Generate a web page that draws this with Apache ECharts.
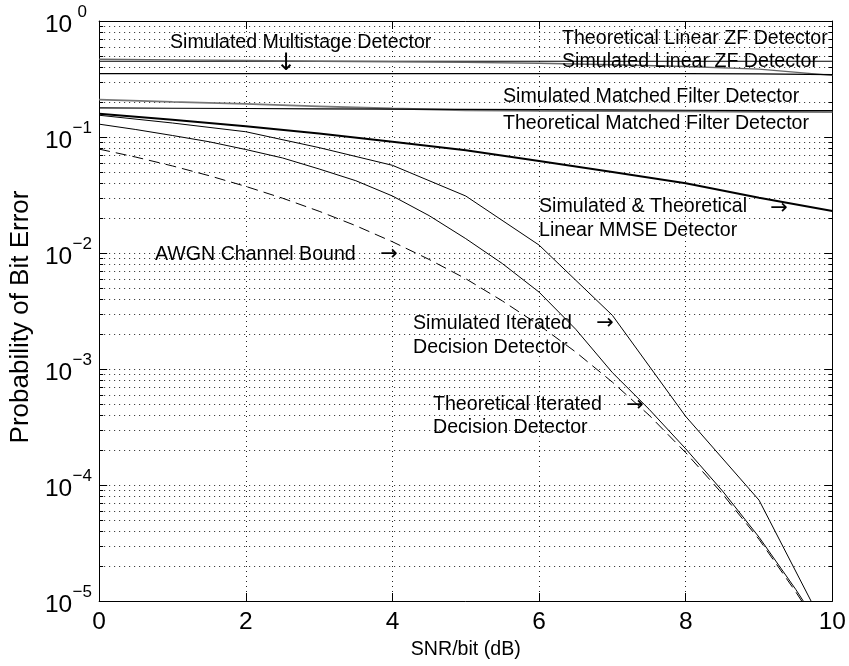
<!DOCTYPE html>
<html><head><meta charset="utf-8">
<script src="https://cdn.jsdelivr.net/npm/echarts@6/dist/echarts.min.js"></script>
<style>html,body{margin:0;padding:0;background:#fff}#c{width:849px;height:666px}</style>
</head><body><div id="c"></div>
<script>
// ---- data ----
const snr = [0,1,2,3,4,5,6,7,8,9,10];
const snrHalf = [0,0.5,1,1.5,2,2.5,3,3.5,4,4.5,5,5.5,6,6.5,7,7.5,8,8.5,9,9.5,10];
const xTicks = [0,2,4,6,8,10];
const yTickExponents = [0,-1,-2,-3,-4,-5];

const zfTheory = [0.45,0.45,0.45,0.45,0.45,0.45,0.45,0.45,0.45,0.45,0.45];
const zfSim = [0.468,0.462,0.456,0.45,0.445,0.44,0.432,0.42,0.405,0.385,0.34];
const multistageSim = [0.352,0.352,0.352,0.352,0.352,0.352,0.352,0.352,0.352,0.35,0.345];
const mfSim = [0.21,0.201,0.193,0.184,0.176,0.170,0.168,0.167,0.166,0.165,0.164];
const mfTheory = [0.178,0.177,0.176,0.175,0.174,0.173,0.172,0.171,0.170,0.169,0.169];
const mmse = [0.159,0.141,0.124,0.107,0.091,0.077,0.062,0.050,0.040,0.030,0.023];
const iterSim = [0.154,0.132,0.111,0.081,0.057,0.031,0.0117,0.0029,0.00039,0.000074,0.0000044];
const iterTheory = [0.129,0.116,0.103,0.091,0.078,0.066,0.053,0.042,0.031,0.021,0.0133,0.0081,0.0046,0.0022,0.00093,0.00045,0.000205,0.000089,0.0000355,0.0000126,0.0000041];
const awgn = [0.0786,0.0671,0.0563,0.0464,0.0375,0.0297,0.0229,0.0172,0.0125,0.0088,0.0060,0.00386,0.00239,0.0014,0.00077,0.00040,0.00019,0.000084,0.000034,0.000012,0.0000039];

const minorMult = [2,3,4,5,6,7,8,9];
const minorDecades = [-5,-4,-3,-2,-1];

// ---- chart ----
const FONT = '"Liberation Sans", Arial, Helvetica, sans-serif';
const AFONT = '"DejaVu Sans", sans-serif';
const FS = 19.6;      // annotation / x title size
const TFS = 24.5;     // tick label size
const YFS = 26;       // y title size
const chart = echarts.init(document.getElementById('c'), null, {renderer: 'canvas'});

function pairs(xs, ys) { return xs.map((x, i) => [x, ys[i]]); }
function line(name, xs, ys, color, width, type) {
  return {
    name: name, type: 'line', data: pairs(xs, ys), showSymbol: false, symbol: 'none',
    smooth: false, clip: true, z: 5, silent: true,
    lineStyle: {color: color, width: width, type: type || 'solid'}
  };
}
const minorTicks = [];
minorDecades.forEach(d => minorMult.forEach(m => minorTicks.push([0, m * Math.pow(10, d)])));

const dotted = {color: '#222', width: 1, type: [1, 4]};

function txt(text, x, y) {
  return {type: 'text', silent: true, z: 100,
    style: {text: text, x: x, y: y, fill: '#000', font: FS + 'px ' + FONT,
            textAlign: 'left', textVerticalAlign: 'middle'}};
}
function arrow(ch, x, y, size) {
  return {type: 'text', silent: true, z: 100,
    style: {text: ch, x: x, y: y, fill: '#000', font: (size || 21) + 'px ' + AFONT,
            textAlign: 'center', textVerticalAlign: 'middle'}};
}

const option = {
  animation: false,
  backgroundColor: '#fff',
  grid: {left: 97, top: 21, right: 16, bottom: 65, containLabel: false},
  xAxis: [{
    type: 'value', min: 0, max: 10, interval: 2, position: 'bottom',
    axisLine: {show: true, onZero: false, lineStyle: {color: '#000', width: 1}},
    axisTick: {show: true, inside: true, length: 8, lineStyle: {color: '#000'}},
    axisLabel: {color: '#000', fontSize: TFS, fontFamily: FONT, margin: 9,
      formatter: v => String(xTicks.find(t => Math.abs(t - v) < 1e-9) ?? v)},
    splitLine: {show: true, lineStyle: dotted},
    name: 'SNR/bit (dB)', nameLocation: 'middle', nameGap: 35,
    nameTextStyle: {color: '#000', fontSize: FS, fontFamily: FONT}
  }, {
    type: 'value', min: 0, max: 10, interval: 2, position: 'top',
    axisLine: {show: true, onZero: false, lineStyle: {color: '#000', width: 1}},
    axisTick: {show: true, inside: true, length: 8, lineStyle: {color: '#000'}},
    axisLabel: {show: false}, splitLine: {show: false}
  }],
  yAxis: [{
    type: 'log', logBase: 10, min: 1e-5, max: 1, position: 'left',
    axisLine: {show: true, onZero: false, lineStyle: {color: '#000', width: 1}},
    axisTick: {show: true, inside: true, length: 8, lineStyle: {color: '#000'}},
    axisLabel: {
      color: '#000', margin: 7, align: 'right',
      formatter: function (v) {
        const e = Math.round(Math.log10(v));
        const lab = yTickExponents.find(t => t === e);
        return '{b|10}{s|' + (lab === undefined ? e : lab).toString().replace('-', '\u2212') + '}';
      },
      rich: {
        b: {fontSize: TFS, fontFamily: FONT, color: '#000', lineHeight: 34, verticalAlign: 'bottom'},
        s: {fontSize: 17, fontFamily: FONT, color: '#000', lineHeight: 17, verticalAlign: 'top', width: 20, align: 'left'}
      }
    },
    splitLine: {show: true, lineStyle: dotted},
    name: 'Probability of Bit Error', nameLocation: 'middle', nameGap: 61, nameRotate: 90,
    nameTextStyle: {color: '#000', fontSize: YFS, fontFamily: FONT, padding: [0, 12, 0, 0]}
  }, {
    type: 'log', logBase: 10, min: 1e-5, max: 1, position: 'right',
    axisLine: {show: true, onZero: false, lineStyle: {color: '#000', width: 1}},
    axisTick: {show: true, inside: true, length: 8, lineStyle: {color: '#000'}},
    axisLabel: {show: false}, splitLine: {show: false}
  }],
  series: [
    {
      type: 'custom', name: 'minor', coordinateSystem: 'cartesian2d', xAxisIndex: 0, yAxisIndex: 0,
      data: minorTicks, encode: {x: 0, y: 1}, z: 1, silent: true, clip: false,
      renderItem: function (params, api) {
        const y = Math.round(api.coord([0, api.value(1)])[1]) + 0.5;
        const cs = params.coordSys;
        return {type: 'group', children: [
          {type: 'line', shape: {x1: cs.x, y1: y, x2: cs.x + cs.width, y2: y},
           style: {stroke: '#222', lineWidth: 1, lineDash: [1, 4]}},
          {type: 'line', shape: {x1: cs.x, y1: y, x2: cs.x + 4, y2: y},
           style: {stroke: '#000', lineWidth: 1}},
          {type: 'line', shape: {x1: cs.x + cs.width - 4, y1: y, x2: cs.x + cs.width, y2: y},
           style: {stroke: '#000', lineWidth: 1}}
        ]};
      }
    },
    line('Theoretical Linear ZF Detector', snr, zfTheory, '#000', 1.2),
    line('Simulated Linear ZF Detector', snr, zfSim, '#666', 1.4),
    line('Simulated Multistage Detector', snr, multistageSim, '#000', 1.2),
    line('Simulated Matched Filter Detector', snr, mfSim, '#777', 1.8),
    line('Theoretical Matched Filter Detector', snr, mfTheory, '#000', 1.2),
    line('Simulated & Theoretical Linear MMSE Detector', snr, mmse, '#000', 2),
    line('Simulated Iterated Decision Detector', snr, iterSim, '#000', 1),
    line('Theoretical Iterated Decision Detector', snrHalf, iterTheory, '#000', 1),
    line('AWGN Channel Bound', snrHalf, awgn, '#000', 1, [11, 6])
  ],
  graphic: [
    txt('Simulated Multistage Detector', 170, 43),
    arrow('\u2193', 286, 64, 24),
    txt('Theoretical Linear ZF Detector', 562, 39),
    txt('Simulated Linear ZF Detector', 562, 61.5),
    txt('Simulated Matched Filter Detector', 503, 96.7),
    txt('Theoretical Matched Filter Detector', 503, 123.7),
    txt('Simulated & Theoretical', 539, 207),
    arrow('\u2192', 779, 209),
    txt('Linear MMSE Detector', 539, 230.7),
    txt('AWGN Channel Bound', 155, 254.2),
    arrow('\u2192', 389, 255),
    txt('Simulated Iterated', 413, 323.3),
    arrow('\u2192', 605, 324),
    txt('Decision Detector', 413, 347.3),
    txt('Theoretical Iterated', 433, 405),
    arrow('\u2192', 635, 406),
    txt('Decision Detector', 433, 428)
  ]
};
chart.setOption(option);
</script>
</body></html>
